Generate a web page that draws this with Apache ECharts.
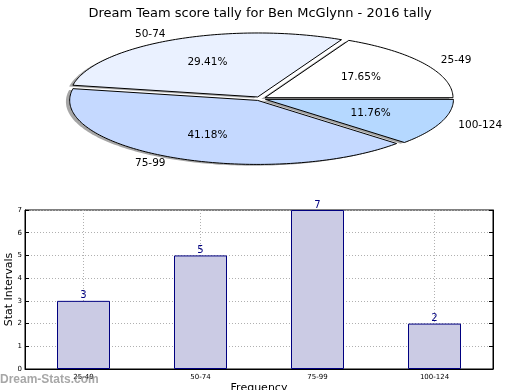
<!DOCTYPE html>
<html>
<head>
<meta charset="utf-8">
<script src="https://cdn.jsdelivr.net/npm/echarts@6/dist/echarts.min.js"></script>
<style>
html,body{margin:0;padding:0;background:#fff;}
#chart{width:520px;height:390px;}
</style>
</head>
<body>
<div id="chart"></div>
<script>
// ---- data ----
var titleText = 'Dream Team score tally for Ben McGlynn - 2016 tally';
var categories = ['25-49', '50-74', '75-99', '100-124'];
var counts = [3, 5, 7, 2];
var sliceColors = ['#ffffff', '#eaf1ff', '#c5d9ff', '#b5d8ff'];
var yTicks = [0, 1, 2, 3, 4, 5, 6, 7];
var yAxisTitle = 'Stat Intervals';
var xAxisTitle = 'Frequency';
var watermark = 'Dream-Stats.com';

// ---- pie geometry (layout) ----
var PIE = { cx: 260.2, cy: 98.7, rx: 188, ry: 64, explode: 0.03, shadow: 0.02 };
var total = counts.reduce(function (a, b) { return a + b; }, 0);
var startFrac = [];
(function () { var acc = 0; for (var i = 0; i < counts.length; i++) { startFrac.push(acc); acc += counts[i]; } })();

function sliceGeom(idx) {
  var a1 = startFrac[idx] / total * Math.PI * 2;
  var a2 = (startFrac[idx] + counts[idx]) / total * Math.PI * 2;
  var mid = (a1 + a2) / 2;
  var ox = PIE.explode * Math.cos(mid) * PIE.rx;
  var oy = -PIE.explode * Math.sin(mid) * PIE.ry;
  return { a1: a1, a2: a2, mid: mid, cx: PIE.cx + ox, cy: PIE.cy + oy };
}
function slicePoints(g, dx, dy) {
  var pts = [[g.cx + dx, g.cy + dy]];
  var n = Math.max(8, Math.ceil((g.a2 - g.a1) / 0.02));
  for (var k = 0; k <= n; k++) {
    var t = g.a1 + (g.a2 - g.a1) * k / n;
    pts.push([g.cx + dx + PIE.rx * Math.cos(t), g.cy + dy - PIE.ry * Math.sin(t)]);
  }
  return pts;
}

var pieData = categories.map(function (c, i) { return { name: c, value: [i, counts[i]] }; });

var chart = echarts.init(document.getElementById('chart'), null, { renderer: 'canvas' });
var fontFam = 'DejaVu Sans';

var option = {
  animation: false,
  backgroundColor: '#ffffff',
  title: {
    text: titleText, left: 'center', top: 2,
    textStyle: { fontFamily: fontFam, fontSize: 13, fontWeight: 'normal', color: '#000' }
  },
  graphic: [{
    type: 'text', left: 0, top: 374, z: 100,
    style: { text: watermark, font: 'bold 12px "Liberation Sans"', fill: 'rgba(130,130,130,0.7)' }
  }],
  grid: { left: 25, right: 27, top: 210, bottom: 21, containLabel: false, outerBoundsMode: 'none', show: true, borderColor: '#000', borderWidth: 1, backgroundColor: 'transparent' },
  xAxis: [{
    type: 'category', data: categories, boundaryGap: true,
    name: xAxisTitle, nameLocation: 'middle', nameGap: 14, nameMoveOverlap: false,
    nameTextStyle: { fontFamily: fontFam, fontSize: 11, color: '#000' },
    axisLine: { show: true, lineStyle: { color: '#000', width: 1 } },
    axisTick: { show: true, inside: true, length: 4, alignWithLabel: true, lineStyle: { color: '#000' } },
    axisLabel: { fontFamily: fontFam, fontSize: 7, color: '#000', margin: 5 },
    splitLine: { show: true, alignWithLabel: true, lineStyle: { color: '#b0b0b0', type: [1, 2], width: 1 } }
  }],
  yAxis: [{
    type: 'value', min: yTicks[0], max: yTicks[yTicks.length - 1], interval: 1,
    name: yAxisTitle, nameLocation: 'middle', nameGap: 10, nameMoveOverlap: false,
    nameTextStyle: { fontFamily: fontFam, fontSize: 11, color: '#000' },
    axisLine: { show: true, lineStyle: { color: '#000', width: 1 } },
    axisTick: { show: true, inside: true, length: 4, lineStyle: { color: '#000' } },
    axisLabel: { fontFamily: fontFam, fontSize: 7, color: '#000', margin: 3 },
    splitLine: { show: true, lineStyle: { color: '#b0b0b0', type: [1, 2], width: 1 } }
  }, {
    type: 'value', position: 'right', min: yTicks[0], max: yTicks[yTicks.length - 1], interval: 1,
    axisLine: { show: true, lineStyle: { color: '#000' } },
    axisTick: { show: true, inside: true, length: 4, lineStyle: { color: '#000' } },
    axisLabel: { show: false }, splitLine: { show: false }
  }],
  series: [
    {
      type: 'bar', data: counts, barWidth: 53, xAxisIndex: 0, yAxisIndex: 0,
      itemStyle: { color: '#cbcbe4', borderColor: '#000080', borderWidth: 1 },
      label: { show: true, position: 'top', distance: 0, fontFamily: fontFam, fontSize: 10, color: '#000080' },
      z: 3
    },
    {
      type: 'custom', coordinateSystem: 'none', data: pieData, z: 1, silent: true,
      renderItem: function (params, api) {
        var idx = params.dataIndex;
        var g = sliceGeom(idx);
        return {
          type: 'polygon',
          shape: { points: slicePoints(g, -PIE.shadow * PIE.rx, PIE.shadow * PIE.ry) },
          style: { fill: 'rgba(77,77,77,0.5)', stroke: null }
        };
      }
    },
    {
      type: 'custom', coordinateSystem: 'none', data: pieData, z: 2, silent: true,
      renderItem: function (params, api) {
        var idx = params.dataIndex;
        var g = sliceGeom(idx);
        var c = Math.cos(g.mid), s = Math.sin(g.mid);
        var pct = (counts[idx] / total * 100).toFixed(2) + '%';
        var lx = g.cx + 1.1 * c * PIE.rx, ly = g.cy - 1.1 * s * PIE.ry;
        var px = g.cx + 0.6 * c * PIE.rx, py = g.cy - 0.6 * s * PIE.ry;
        return {
          type: 'group',
          children: [{
            type: 'polygon',
            shape: { points: slicePoints(g, 0, 0) },
            style: { fill: sliceColors[idx], stroke: '#000', lineWidth: 1, lineJoin: 'miter' }
          }, {
            type: 'text', z2: 10,
            style: { x: px, y: py, text: pct, fill: '#000', font: '10.5px "DejaVu Sans"', align: 'center', verticalAlign: 'middle' }
          }, {
            type: 'text', z2: 10,
            style: { x: lx, y: ly, text: categories[idx], fill: '#000', font: '10.5px "DejaVu Sans"', align: c >= 0 ? 'left' : 'right', verticalAlign: 'middle' }
          }]
        };
      }
    }
  ]
};
chart.setOption(option);
</script>
</body>
</html>
